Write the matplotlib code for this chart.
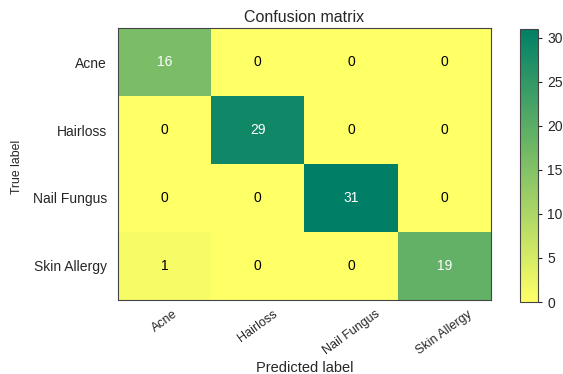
import numpy as np
import matplotlib
matplotlib.use("Agg")
import matplotlib.pyplot as plt
from matplotlib import font_manager

classes = ["Acne", "Hairloss", "Nail Fungus", "Skin Allergy"]
cm = np.array([[16, 0, 0, 0],
               [0, 29, 0, 0],
               [0, 0, 31, 0],
               [1, 0, 0, 19]])

plt.rcParams['font.family'] = ['Liberation Sans', 'DejaVu Sans']
plt.rcParams['text.color'] = '#262626'
plt.rcParams['axes.labelcolor'] = '#262626'
plt.rcParams['xtick.color'] = '#262626'
plt.rcParams['ytick.color'] = '#262626'

fig = plt.figure(figsize=(5.63, 3.74), dpi=100)
ax = fig.add_axes([118/563, 1 - 300/374, (491-118)/563, (300-28)/374])
cax = fig.add_axes([520/563, 1 - 302/374, 18/563, (302-29)/374])

im = ax.imshow(cm, interpolation='nearest', cmap='summer_r', aspect='auto')
cb = fig.colorbar(im, cax=cax)
cb.outline.set_edgecolor('#444444')
cb.ax.tick_params(labelsize=10, length=3, width=0.8, colors='#262626')

ax.set_title("Confusion matrix", fontsize=11.5, pad=4)
ticks = np.arange(len(classes))
ax.set_xticks(ticks)
ax.set_xticklabels(classes, rotation=36, fontsize=9)
ax.set_yticks(ticks)
ax.set_yticklabels(classes, fontsize=10)
ax.tick_params(axis='x', length=0, pad=6)
ax.tick_params(axis='y', length=0, pad=8)
for s in ax.spines.values():
    s.set_edgecolor('#444444')

thresh = cm.max() / 2.
for i in range(cm.shape[0]):
    for j in range(cm.shape[1]):
        ax.text(j, i, format(cm[i, j], 'd'), ha='center', va='center',
                fontsize=10, color='white' if cm[i, j] > thresh else 'black')

narrow = None
try:
    font_manager.findfont('Liberation Sans Narrow', fallback_to_default=False)
    narrow = 'Liberation Sans Narrow'
except Exception:
    narrow = None
if narrow:
    ax.set_ylabel("True label", fontsize=10.5, family=[narrow, 'Liberation Sans'])
else:
    ax.set_ylabel("True label", fontsize=8.8)
ax.yaxis.set_label_coords(-0.255, 0.49)
ax.set_xlabel("Predicted label", fontsize=10.5)
ax.xaxis.set_label_coords(0.5, -0.225)

fig.savefig("out.png", dpi=100)
